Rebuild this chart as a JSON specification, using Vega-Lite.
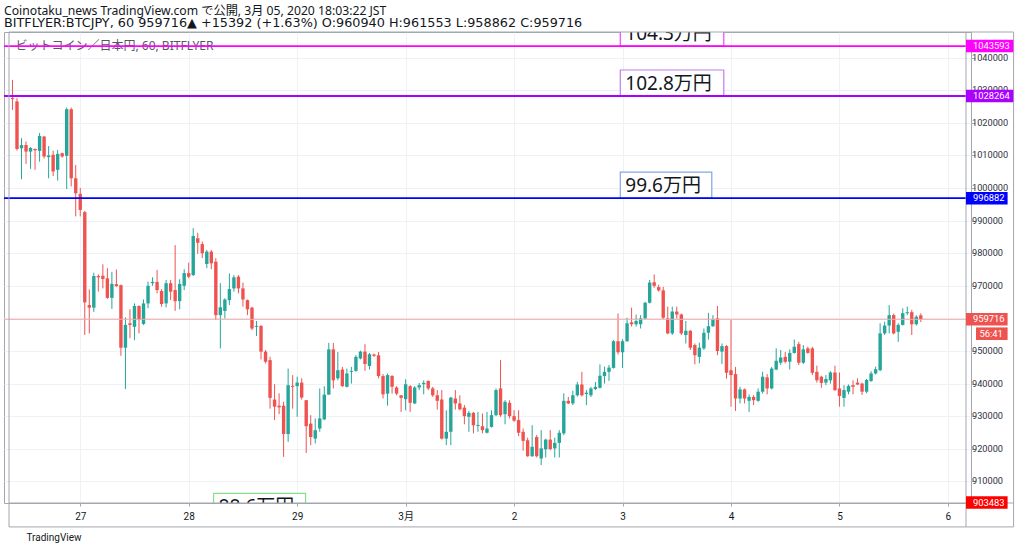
{
"$schema":"https://vega.github.io/schema/vega-lite/v6.json",
"width":967,"height":471,
"autosize":"none",
"padding":{"left":4,"top":32,"right":53,"bottom":49},
"background":"#ffffff",
"config":{"view":{"stroke":"#a3a6af","strokeWidth":1},"font":"Roboto"},
"title":{"text":"Coinotaku_news TradingView.com で公開, 3月 05, 2020 18:03:22 JST","subtitle":"BITFLYER:BTCJPY, 60 959716▲ +15392 (+1.63%) O:960940 H:961553 L:958862 C:959716","anchor":"start","frame":"group","font":"Noto Sans, Noto Sans CJK JP","subtitleFont":"DejaVu Sans, Noto Sans CJK JP","fontSize":12.2,"subtitleFontSize":12.8,"fontWeight":"normal","color":"#131722","subtitleColor":"#131722","subtitlePadding":0,"offset":2},
"datasets":{
"bars":[
{"t":"2020-02-26T09:00:00Z","o":1027600,"h":1033200,"l":1024000,"c":1027300},
{"t":"2020-02-26T10:00:00Z","o":1026600,"h":1027600,"l":1011500,"c":1012000},
{"t":"2020-02-26T11:00:00Z","o":1012200,"h":1015300,"l":1002700,"c":1013200},
{"t":"2020-02-26T12:00:00Z","o":1013200,"h":1014300,"l":1007400,"c":1011200},
{"t":"2020-02-26T13:00:00Z","o":1011200,"h":1012600,"l":1005900,"c":1012300},
{"t":"2020-02-26T14:00:00Z","o":1012000,"h":1012200,"l":1005600,"c":1011600},
{"t":"2020-02-26T15:00:00Z","o":1011400,"h":1016900,"l":1008100,"c":1016000},
{"t":"2020-02-26T16:00:00Z","o":1015800,"h":1016000,"l":1009100,"c":1009700},
{"t":"2020-02-26T17:00:00Z","o":1009500,"h":1012900,"l":1003000,"c":1010000},
{"t":"2020-02-26T18:00:00Z","o":1010200,"h":1011500,"l":1003700,"c":1005100},
{"t":"2020-02-26T19:00:00Z","o":1005600,"h":1011700,"l":1002300,"c":1010500},
{"t":"2020-02-26T20:00:00Z","o":1010700,"h":1010900,"l":1009300,"c":1009700},
{"t":"2020-02-26T21:00:00Z","o":1009900,"h":1024700,"l":999700,"c":1024200},
{"t":"2020-02-26T22:00:00Z","o":1024200,"h":1024700,"l":1000500,"c":1003000},
{"t":"2020-02-26T23:00:00Z","o":1003000,"h":1007100,"l":991300,"c":998400},
{"t":"2020-02-27T00:00:00Z","o":998200,"h":1000000,"l":991300,"c":993300},
{"t":"2020-02-27T01:00:00Z","o":992600,"h":993000,"l":954900,"c":964900},
{"t":"2020-02-27T02:00:00Z","o":964100,"h":968900,"l":955400,"c":963300},
{"t":"2020-02-27T03:00:00Z","o":963300,"h":974000,"l":962000,"c":973000},
{"t":"2020-02-27T04:00:00Z","o":973000,"h":973500,"l":968200,"c":972600},
{"t":"2020-02-27T05:00:00Z","o":973100,"h":976600,"l":969200,"c":972100},
{"t":"2020-02-27T06:00:00Z","o":972300,"h":975400,"l":966000,"c":966300},
{"t":"2020-02-27T07:00:00Z","o":966300,"h":974300,"l":962900,"c":970600},
{"t":"2020-02-27T08:00:00Z","o":970500,"h":975000,"l":969700,"c":969900},
{"t":"2020-02-27T09:00:00Z","o":970200,"h":970400,"l":948500,"c":951000},
{"t":"2020-02-27T10:00:00Z","o":951000,"h":960300,"l":938300,"c":958000},
{"t":"2020-02-27T11:00:00Z","o":958500,"h":962800,"l":953900,"c":958000},
{"t":"2020-02-27T12:00:00Z","o":957400,"h":964600,"l":953300,"c":963800},
{"t":"2020-02-27T13:00:00Z","o":963800,"h":964000,"l":955400,"c":959500},
{"t":"2020-02-27T14:00:00Z","o":958300,"h":965800,"l":958000,"c":964600},
{"t":"2020-02-27T15:00:00Z","o":964600,"h":971300,"l":963100,"c":970000},
{"t":"2020-02-27T16:00:00Z","o":970800,"h":972600,"l":970000,"c":971200},
{"t":"2020-02-27T17:00:00Z","o":971200,"h":974900,"l":967700,"c":968700},
{"t":"2020-02-27T18:00:00Z","o":968400,"h":969000,"l":963600,"c":964400},
{"t":"2020-02-27T19:00:00Z","o":964600,"h":971800,"l":963400,"c":970800},
{"t":"2020-02-27T20:00:00Z","o":970800,"h":971800,"l":965600,"c":968200},
{"t":"2020-02-27T21:00:00Z","o":968700,"h":982500,"l":962300,"c":965300},
{"t":"2020-02-27T22:00:00Z","o":965300,"h":972000,"l":962800,"c":970600},
{"t":"2020-02-27T23:00:00Z","o":970000,"h":975100,"l":968700,"c":973900},
{"t":"2020-02-28T00:00:00Z","o":973900,"h":977100,"l":972300,"c":972800},
{"t":"2020-02-28T01:00:00Z","o":973300,"h":987700,"l":973000,"c":985300},
{"t":"2020-02-28T02:00:00Z","o":984600,"h":986300,"l":979800,"c":983200},
{"t":"2020-02-28T03:00:00Z","o":982800,"h":983600,"l":978500,"c":980000},
{"t":"2020-02-28T04:00:00Z","o":976700,"h":981000,"l":975400,"c":980500},
{"t":"2020-02-28T05:00:00Z","o":980500,"h":981000,"l":975100,"c":976900},
{"t":"2020-02-28T06:00:00Z","o":977400,"h":978500,"l":959500,"c":961000},
{"t":"2020-02-28T07:00:00Z","o":961000,"h":970800,"l":950800,"c":963400},
{"t":"2020-02-28T08:00:00Z","o":962300,"h":966200,"l":960000,"c":965800},
{"t":"2020-02-28T09:00:00Z","o":965600,"h":973800,"l":964100,"c":969000},
{"t":"2020-02-28T10:00:00Z","o":969200,"h":973300,"l":968200,"c":972600},
{"t":"2020-02-28T11:00:00Z","o":972800,"h":973300,"l":967700,"c":969200},
{"t":"2020-02-28T12:00:00Z","o":969200,"h":971000,"l":963600,"c":965800},
{"t":"2020-02-28T13:00:00Z","o":965600,"h":965800,"l":961000,"c":962800},
{"t":"2020-02-28T14:00:00Z","o":963300,"h":963600,"l":956400,"c":956900},
{"t":"2020-02-28T15:00:00Z","o":957400,"h":959200,"l":954600,"c":957700},
{"t":"2020-02-28T16:00:00Z","o":957700,"h":957900,"l":947400,"c":949800},
{"t":"2020-02-28T17:00:00Z","o":949800,"h":950300,"l":946200,"c":946700},
{"t":"2020-02-28T18:00:00Z","o":947200,"h":948200,"l":932300,"c":935600},
{"t":"2020-02-28T19:00:00Z","o":935100,"h":939800,"l":928800,"c":932900},
{"t":"2020-02-28T20:00:00Z","o":933200,"h":937000,"l":930600,"c":932700},
{"t":"2020-02-28T21:00:00Z","o":933200,"h":934400,"l":917500,"c":924500},
{"t":"2020-02-28T22:00:00Z","o":924500,"h":944600,"l":922100,"c":939500},
{"t":"2020-02-28T23:00:00Z","o":939300,"h":942600,"l":932300,"c":939000},
{"t":"2020-02-29T00:00:00Z","o":939200,"h":942100,"l":929800,"c":940300},
{"t":"2020-02-29T01:00:00Z","o":940300,"h":941600,"l":935100,"c":935700},
{"t":"2020-02-29T02:00:00Z","o":934900,"h":934900,"l":918700,"c":926900},
{"t":"2020-02-29T03:00:00Z","o":927700,"h":930300,"l":921100,"c":923600},
{"t":"2020-02-29T04:00:00Z","o":923100,"h":929300,"l":921600,"c":925700},
{"t":"2020-02-29T05:00:00Z","o":926200,"h":938500,"l":925200,"c":929300},
{"t":"2020-02-29T06:00:00Z","o":929000,"h":939200,"l":928800,"c":936600},
{"t":"2020-02-29T07:00:00Z","o":936600,"h":952500,"l":936600,"c":950500},
{"t":"2020-02-29T08:00:00Z","o":950500,"h":952500,"l":938500,"c":941000},
{"t":"2020-02-29T09:00:00Z","o":941600,"h":949700,"l":941000,"c":944100},
{"t":"2020-02-29T10:00:00Z","o":944300,"h":945100,"l":939000,"c":939200},
{"t":"2020-02-29T11:00:00Z","o":939000,"h":944600,"l":938800,"c":943100},
{"t":"2020-02-29T12:00:00Z","o":943600,"h":945100,"l":940000,"c":943900},
{"t":"2020-02-29T13:00:00Z","o":943900,"h":948700,"l":943600,"c":948200},
{"t":"2020-02-29T14:00:00Z","o":947700,"h":950100,"l":947400,"c":949800},
{"t":"2020-02-29T15:00:00Z","o":949800,"h":952100,"l":943900,"c":946000},
{"t":"2020-02-29T16:00:00Z","o":945400,"h":949400,"l":944300,"c":949000},
{"t":"2020-02-29T17:00:00Z","o":948900,"h":949200,"l":948200,"c":948500},
{"t":"2020-02-29T18:00:00Z","o":948700,"h":949700,"l":941600,"c":942300},
{"t":"2020-02-29T19:00:00Z","o":942300,"h":942900,"l":935400,"c":936700},
{"t":"2020-02-29T20:00:00Z","o":936900,"h":943100,"l":933200,"c":942600},
{"t":"2020-02-29T21:00:00Z","o":942300,"h":942600,"l":936900,"c":939000},
{"t":"2020-02-29T22:00:00Z","o":938800,"h":939200,"l":936400,"c":936900},
{"t":"2020-02-29T23:00:00Z","o":936400,"h":936400,"l":931300,"c":935600},
{"t":"2020-03-01T00:00:00Z","o":935200,"h":941300,"l":931800,"c":939800},
{"t":"2020-03-01T01:00:00Z","o":939200,"h":939500,"l":931300,"c":934100},
{"t":"2020-03-01T02:00:00Z","o":933900,"h":939200,"l":933700,"c":938800},
{"t":"2020-03-01T03:00:00Z","o":938800,"h":940200,"l":938000,"c":939500},
{"t":"2020-03-01T04:00:00Z","o":939800,"h":941000,"l":936700,"c":940200},
{"t":"2020-03-01T05:00:00Z","o":940800,"h":941000,"l":938000,"c":938500},
{"t":"2020-03-01T06:00:00Z","o":938500,"h":939000,"l":935900,"c":936400},
{"t":"2020-03-01T07:00:00Z","o":936400,"h":938000,"l":932000,"c":934700},
{"t":"2020-03-01T08:00:00Z","o":935100,"h":938000,"l":922800,"c":923100},
{"t":"2020-03-01T09:00:00Z","o":923100,"h":931800,"l":921100,"c":925200},
{"t":"2020-03-01T10:00:00Z","o":925200,"h":935900,"l":921100,"c":935700},
{"t":"2020-03-01T11:00:00Z","o":935400,"h":938000,"l":932000,"c":933900},
{"t":"2020-03-01T12:00:00Z","o":933900,"h":936400,"l":931800,"c":932100},
{"t":"2020-03-01T13:00:00Z","o":932600,"h":933400,"l":927500,"c":930000},
{"t":"2020-03-01T14:00:00Z","o":929800,"h":931600,"l":925200,"c":931000},
{"t":"2020-03-01T15:00:00Z","o":931000,"h":931300,"l":924700,"c":927200},
{"t":"2020-03-01T16:00:00Z","o":927000,"h":931300,"l":925200,"c":927300},
{"t":"2020-03-01T17:00:00Z","o":926900,"h":930800,"l":924700,"c":925700},
{"t":"2020-03-01T18:00:00Z","o":924900,"h":931300,"l":924700,"c":926200},
{"t":"2020-03-01T19:00:00Z","o":926700,"h":931800,"l":926500,"c":930300},
{"t":"2020-03-01T20:00:00Z","o":930300,"h":938500,"l":930000,"c":938000},
{"t":"2020-03-01T21:00:00Z","o":938500,"h":947200,"l":929800,"c":930300},
{"t":"2020-03-01T22:00:00Z","o":930600,"h":934900,"l":927500,"c":934400},
{"t":"2020-03-01T23:00:00Z","o":934100,"h":934900,"l":929300,"c":930000},
{"t":"2020-03-02T00:00:00Z","o":930000,"h":931800,"l":928300,"c":928600},
{"t":"2020-03-02T01:00:00Z","o":928800,"h":931800,"l":923900,"c":924900},
{"t":"2020-03-02T02:00:00Z","o":925200,"h":926200,"l":919400,"c":922400},
{"t":"2020-03-02T03:00:00Z","o":922600,"h":923400,"l":917500,"c":917700},
{"t":"2020-03-02T04:00:00Z","o":917700,"h":927200,"l":917500,"c":920600},
{"t":"2020-03-02T05:00:00Z","o":923600,"h":924200,"l":917300,"c":917700},
{"t":"2020-03-02T06:00:00Z","o":917000,"h":925700,"l":915000,"c":920100},
{"t":"2020-03-02T07:00:00Z","o":919800,"h":923100,"l":917300,"c":922800},
{"t":"2020-03-02T08:00:00Z","o":922800,"h":925700,"l":919500,"c":919900},
{"t":"2020-03-02T09:00:00Z","o":920100,"h":923400,"l":917300,"c":921800},
{"t":"2020-03-02T10:00:00Z","o":921800,"h":925700,"l":917300,"c":924900},
{"t":"2020-03-02T11:00:00Z","o":924700,"h":937000,"l":924200,"c":934700},
{"t":"2020-03-02T12:00:00Z","o":934700,"h":935900,"l":933700,"c":933900},
{"t":"2020-03-02T13:00:00Z","o":933900,"h":937800,"l":933400,"c":936400},
{"t":"2020-03-02T14:00:00Z","o":936400,"h":940500,"l":936000,"c":939700},
{"t":"2020-03-02T15:00:00Z","o":939700,"h":943600,"l":936000,"c":936400},
{"t":"2020-03-02T16:00:00Z","o":936800,"h":938000,"l":933400,"c":937200},
{"t":"2020-03-02T17:00:00Z","o":936400,"h":939000,"l":935900,"c":938500},
{"t":"2020-03-02T18:00:00Z","o":938300,"h":940500,"l":938000,"c":939000},
{"t":"2020-03-02T19:00:00Z","o":938700,"h":945900,"l":938500,"c":942400},
{"t":"2020-03-02T20:00:00Z","o":942300,"h":945200,"l":940000,"c":943600},
{"t":"2020-03-02T21:00:00Z","o":943600,"h":945700,"l":940800,"c":944900},
{"t":"2020-03-02T22:00:00Z","o":944800,"h":953300,"l":944600,"c":953000},
{"t":"2020-03-02T23:00:00Z","o":953000,"h":961500,"l":948900,"c":949600},
{"t":"2020-03-03T00:00:00Z","o":949600,"h":953600,"l":944800,"c":953000},
{"t":"2020-03-03T01:00:00Z","o":953000,"h":960200,"l":952800,"c":958500},
{"t":"2020-03-03T02:00:00Z","o":958800,"h":963300,"l":957500,"c":958200},
{"t":"2020-03-03T03:00:00Z","o":958200,"h":961200,"l":957500,"c":959200},
{"t":"2020-03-03T04:00:00Z","o":958200,"h":961000,"l":956900,"c":960000},
{"t":"2020-03-03T05:00:00Z","o":960000,"h":965100,"l":959800,"c":964800},
{"t":"2020-03-03T06:00:00Z","o":964800,"h":971800,"l":964600,"c":971000},
{"t":"2020-03-03T07:00:00Z","o":971100,"h":973500,"l":969400,"c":970000},
{"t":"2020-03-03T08:00:00Z","o":969600,"h":970300,"l":968200,"c":968600},
{"t":"2020-03-03T09:00:00Z","o":968600,"h":969700,"l":959800,"c":960200},
{"t":"2020-03-03T10:00:00Z","o":960000,"h":963600,"l":955100,"c":955400},
{"t":"2020-03-03T11:00:00Z","o":955400,"h":963600,"l":954900,"c":962100},
{"t":"2020-03-03T12:00:00Z","o":962100,"h":963600,"l":960000,"c":961200},
{"t":"2020-03-03T13:00:00Z","o":961200,"h":961500,"l":954900,"c":955400},
{"t":"2020-03-03T14:00:00Z","o":954900,"h":959200,"l":952300,"c":956200},
{"t":"2020-03-03T15:00:00Z","o":956200,"h":956400,"l":950300,"c":951000},
{"t":"2020-03-03T16:00:00Z","o":951800,"h":952300,"l":945900,"c":948700},
{"t":"2020-03-03T17:00:00Z","o":948200,"h":952600,"l":946200,"c":951000},
{"t":"2020-03-03T18:00:00Z","o":950800,"h":956900,"l":950300,"c":955600},
{"t":"2020-03-03T19:00:00Z","o":955600,"h":961700,"l":953500,"c":957600},
{"t":"2020-03-03T20:00:00Z","o":957600,"h":961000,"l":957400,"c":959700},
{"t":"2020-03-03T21:00:00Z","o":960000,"h":963800,"l":948700,"c":950000},
{"t":"2020-03-03T22:00:00Z","o":949800,"h":952300,"l":946000,"c":951500},
{"t":"2020-03-03T23:00:00Z","o":951500,"h":951800,"l":941500,"c":943300},
{"t":"2020-03-04T00:00:00Z","o":944100,"h":959500,"l":932900,"c":942600},
{"t":"2020-03-04T01:00:00Z","o":942900,"h":945100,"l":931600,"c":935400},
{"t":"2020-03-04T02:00:00Z","o":935400,"h":939000,"l":933900,"c":938200},
{"t":"2020-03-04T03:00:00Z","o":938200,"h":938500,"l":933900,"c":935400},
{"t":"2020-03-04T04:00:00Z","o":934700,"h":936700,"l":931300,"c":935900},
{"t":"2020-03-04T05:00:00Z","o":935900,"h":936400,"l":933400,"c":934900},
{"t":"2020-03-04T06:00:00Z","o":934700,"h":938500,"l":934400,"c":937500},
{"t":"2020-03-04T07:00:00Z","o":937500,"h":943600,"l":936900,"c":942100},
{"t":"2020-03-04T08:00:00Z","o":941900,"h":942900,"l":936700,"c":938500},
{"t":"2020-03-04T09:00:00Z","o":938500,"h":945100,"l":938200,"c":944600},
{"t":"2020-03-04T10:00:00Z","o":944300,"h":950800,"l":944100,"c":947000},
{"t":"2020-03-04T11:00:00Z","o":946400,"h":950300,"l":945700,"c":948000},
{"t":"2020-03-04T12:00:00Z","o":948200,"h":949700,"l":946200,"c":946700},
{"t":"2020-03-04T13:00:00Z","o":946700,"h":950500,"l":944300,"c":949400},
{"t":"2020-03-04T14:00:00Z","o":949400,"h":953500,"l":949200,"c":951300},
{"t":"2020-03-04T15:00:00Z","o":952100,"h":952800,"l":945700,"c":946400},
{"t":"2020-03-04T16:00:00Z","o":946400,"h":951800,"l":946000,"c":950500},
{"t":"2020-03-04T17:00:00Z","o":950800,"h":951300,"l":949200,"c":949400},
{"t":"2020-03-04T18:00:00Z","o":950800,"h":951300,"l":942600,"c":943300},
{"t":"2020-03-04T19:00:00Z","o":943600,"h":945500,"l":940300,"c":941000},
{"t":"2020-03-04T20:00:00Z","o":942100,"h":942400,"l":938700,"c":940200},
{"t":"2020-03-04T21:00:00Z","o":940300,"h":942600,"l":939500,"c":941400},
{"t":"2020-03-04T22:00:00Z","o":941000,"h":943800,"l":940000,"c":943400},
{"t":"2020-03-04T23:00:00Z","o":943400,"h":945500,"l":937700,"c":938000},
{"t":"2020-03-05T00:00:00Z","o":938500,"h":943400,"l":932900,"c":936200},
{"t":"2020-03-05T01:00:00Z","o":935600,"h":939500,"l":932900,"c":938000},
{"t":"2020-03-05T02:00:00Z","o":937500,"h":939700,"l":936700,"c":939300},
{"t":"2020-03-05T03:00:00Z","o":939500,"h":941000,"l":936700,"c":939000},
{"t":"2020-03-05T04:00:00Z","o":940300,"h":941600,"l":939500,"c":939700},
{"t":"2020-03-05T05:00:00Z","o":940000,"h":940300,"l":936500,"c":937500},
{"t":"2020-03-05T06:00:00Z","o":937500,"h":941400,"l":937000,"c":941100},
{"t":"2020-03-05T07:00:00Z","o":940800,"h":943800,"l":940500,"c":943100},
{"t":"2020-03-05T08:00:00Z","o":943100,"h":945200,"l":942800,"c":944400},
{"t":"2020-03-05T09:00:00Z","o":944100,"h":958500,"l":943800,"c":955400},
{"t":"2020-03-05T10:00:00Z","o":955400,"h":959000,"l":954900,"c":957800},
{"t":"2020-03-05T11:00:00Z","o":957800,"h":964100,"l":955400,"c":961000},
{"t":"2020-03-05T12:00:00Z","o":961000,"h":961500,"l":955100,"c":955400},
{"t":"2020-03-05T13:00:00Z","o":955900,"h":958500,"l":952800,"c":958000},
{"t":"2020-03-05T14:00:00Z","o":958000,"h":963100,"l":957800,"c":961600},
{"t":"2020-03-05T15:00:00Z","o":961600,"h":963600,"l":961000,"c":961900},
{"t":"2020-03-05T16:00:00Z","o":961900,"h":962600,"l":954900,"c":958200},
{"t":"2020-03-05T17:00:00Z","o":958200,"h":961000,"l":957800,"c":960500},
{"t":"2020-03-05T18:00:00Z","o":960940,"h":961553,"l":958862,"c":959716}
],
"levels":[
{"name":"104.3万円","price":1043593},
{"name":"102.8万円","price":1028264},
{"name":"99.6万円","price":996882}
],
"notes":[
{"text":"104.3万円","t":"2020-03-02T23:30:00Z","p":1043593},
{"text":"102.8万円","t":"2020-03-02T23:30:00Z","p":1028264},
{"text":"99.6万円","t":"2020-03-02T23:30:00Z","p":996882},
{"text":"88.6万円","t":"2020-02-28T05:30:00Z","p":898300}
],
"tags":[
{"tag":"1043593","price":1043593},
{"tag":"1028264","price":1028264},
{"tag":"996882","price":996882},
{"tag":"959716","price":959716},
{"tag":"903483","price":903483}
],
"yticks":[
{"v":910000},{"v":920000},{"v":930000},{"v":940000},{"v":950000},{"v":960000},{"v":970000},{"v":980000},{"v":990000},{"v":1000000},{"v":1010000},{"v":1020000},{"v":1030000},{"v":1040000}
]
},
"resolve":{"scale":{"shape":"independent","fill":"independent","stroke":"independent","color":"independent"}},
"layer":[
{
"data":{"name":"bars"},
"mark":{"type":"rule","strokeWidth":1},
"encoding":{
"x":{"field":"t","type":"temporal","scale":{"type":"utc","domain":[{"year":2020,"month":2,"date":26,"hours":8,"minutes":14,"utc":true},{"year":2020,"month":3,"date":6,"hours":4,"utc":true}]},
"axis":{"orient":"bottom","title":"TradingView","titleAnchor":"start","titleAlign":"left","titleBaseline":"middle","titleX":22,"titleY":34,"titleFontSize":10,"titleFontWeight":"normal","titleColor":"#131722","titleFont":"Roboto","values":[{"year":2020,"month":2,"date":27,"utc":true},{"year":2020,"month":2,"date":28,"utc":true},{"year":2020,"month":2,"date":29,"utc":true},{"year":2020,"month":3,"date":1,"utc":true},{"year":2020,"month":3,"date":2,"utc":true},{"year":2020,"month":3,"date":3,"utc":true},{"year":2020,"month":3,"date":4,"utc":true},{"year":2020,"month":3,"date":5,"utc":true},{"year":2020,"month":3,"date":6,"utc":true}],"labelExpr":"utcdate(datum.value) == 1 ? '3月' : '' + utcdate(datum.value)","labelFont":"Roboto, Noto Sans CJK JP","labelFontSize":10,"labelColor":"#131722","tickSize":3,"tickColor":"#a3a6af","labelPadding":5,"domain":false,"grid":true,"gridColor":"#eef1f6","labelFlush":false,"labelOverlap":false}},
"y":{"field":"l","type":"quantitative","scale":{"domain":[903340,1047900],"zero":false,"nice":false},
"axis":{"orient":"right","title":null,"values":[910000,920000,930000,940000,950000,960000,970000,980000,990000,1000000,1010000,1020000,1030000,1040000],"tickCount":14,"labels":false,"tickSize":4,"tickColor":"#a3a6af","domain":false,"grid":true,"gridColor":"#eef1f6"}},
"y2":{"field":"h"},
"color":{"condition":{"test":"datum.c >= datum.o","value":"#26a69a"},"value":"#ef5350"}
}
},
{
"data":{"name":"bars"},
"mark":{"type":"bar","width":3.4},
"encoding":{
"x":{"field":"t","type":"temporal"},
"y":{"field":"o","type":"quantitative"},
"y2":{"field":"c"},
"color":{"condition":{"test":"datum.c >= datum.o","value":"#26a69a"},"value":"#ef5350"}
}
},
{
"data":{"name":"yticks"},
"mark":{"type":"text","align":"left","baseline":"middle","dx":6,"fontSize":9.2,"font":"Roboto","color":"#2f3240"},
"encoding":{
"x":{"datum":{"year":2020,"month":3,"date":6,"hours":4,"utc":true},"type":"temporal"},
"y":{"field":"v","type":"quantitative"},
"text":{"field":"v","type":"quantitative","format":"d"}
}
},
{
"data":{"values":[{"label":"ビットコイン／日本円, 60, BITFLYER"}]},
"mark":{"type":"text","align":"left","baseline":"middle","dx":3,"fontSize":12,"font":"Noto Sans, Noto Sans CJK JP","color":"#55585f"},
"encoding":{
"x":{"datum":{"year":2020,"month":2,"date":26,"hours":9,"utc":true},"type":"temporal"},
"y":{"datum":1043593,"type":"quantitative"},
"text":{"field":"label"}
}
},
{
"data":{"values":[{"price":959716}]},
"mark":{"type":"rule","strokeWidth":1,"color":"#f5a9a8"},
"encoding":{"y":{"field":"price","type":"quantitative"}}
},
{
"data":{"name":"notes"},
"mark":{"type":"point","filled":false,"fill":"#ffffff","fillOpacity":1,"opacity":1,"size":10000,"strokeWidth":1.2,"clip":true},
"encoding":{
"x":{"field":"t","type":"temporal"},
"y":{"field":"p","type":"quantitative"},
"shape":{"field":"text","type":"nominal","legend":null,"scale":{"domain":["104.3万円","102.8万円","99.6万円","88.6万円"],"range":["M0,0H2.07V-0.52H0Z","M0,0H2.07V-0.52H0Z","M0,0H1.83V-0.52H0Z","M0,0H1.84V-0.52H0Z"]}},
"stroke":{"field":"text","type":"nominal","legend":null,"scale":{"domain":["104.3万円","102.8万円","99.6万円","88.6万円"],"range":["#e64cf5","#c07cf2","#7eaae2","#86df86"]}}
}
},
{
"data":{"name":"notes"},
"mark":{"type":"text","align":"left","baseline":"alphabetic","dx":5,"dy":-6,"fontSize":19,"font":"Noto Sans, Noto Sans CJK JP","color":"#131722","clip":true},
"encoding":{
"x":{"field":"t","type":"temporal"},
"y":{"field":"p","type":"quantitative"},
"text":{"field":"text"}
}
},
{
"data":{"name":"levels"},
"mark":{"type":"rule","strokeWidth":1.8},
"encoding":{
"y":{"field":"price","type":"quantitative"},
"color":{"field":"name","type":"nominal","legend":null,"scale":{"domain":["104.3万円","102.8万円","99.6万円"],"range":["#ff00ff","#aa00ff","#0000ff"]}}
}
},
{
"data":{"values":[{"edge":"top"}]},
"mark":{"type":"rule","strokeWidth":1,"color":"#a3a6af"},
"encoding":{
"x":{"datum":{"year":2020,"month":2,"date":26,"hours":8,"minutes":14,"utc":true},"type":"temporal"},
"x2":{"datum":{"year":2020,"month":3,"date":6,"hours":14,"minutes":32,"utc":true}},
"y":{"datum":1047900,"type":"quantitative"}
}
},
{
"data":{"values":[{"edge":"bottom"}]},
"mark":{"type":"rule","strokeWidth":1,"color":"#a3a6af"},
"encoding":{
"x":{"datum":{"year":2020,"month":2,"date":26,"hours":8,"minutes":14,"utc":true},"type":"temporal"},
"x2":{"datum":{"year":2020,"month":3,"date":6,"hours":14,"minutes":32,"utc":true}},
"y":{"datum":903340,"type":"quantitative"}
}
},
{
"data":{"values":[{"edge":"outer bottom"}]},
"mark":{"type":"rule","strokeWidth":1,"color":"#a3a6af"},
"encoding":{
"x":{"datum":{"year":2020,"month":2,"date":26,"hours":8,"minutes":14,"utc":true},"type":"temporal"},
"x2":{"datum":{"year":2020,"month":3,"date":6,"hours":14,"minutes":32,"utc":true}},
"y":{"datum":896000,"type":"quantitative"}
}
},
{
"data":{"values":[{"edge":"left"}]},
"mark":{"type":"rule","strokeWidth":1,"color":"#a3a6af"},
"encoding":{
"x":{"datum":{"year":2020,"month":2,"date":26,"hours":8,"minutes":14,"utc":true},"type":"temporal"},
"y":{"datum":1047900,"type":"quantitative"},
"y2":{"datum":896000}
}
},
{
"data":{"values":[{"edge":"axis"}]},
"mark":{"type":"rule","strokeWidth":1,"color":"#a3a6af"},
"encoding":{
"x":{"datum":{"year":2020,"month":3,"date":6,"hours":4,"utc":true},"type":"temporal"},
"y":{"datum":1047900,"type":"quantitative"},
"y2":{"datum":896000}
}
},
{
"data":{"values":[{"edge":"right"}]},
"mark":{"type":"rule","strokeWidth":1,"color":"#a3a6af"},
"encoding":{
"x":{"datum":{"year":2020,"month":3,"date":6,"hours":14,"minutes":32,"utc":true},"type":"temporal"},
"y":{"datum":1047900,"type":"quantitative"},
"y2":{"datum":896000}
}
},
{
"data":{"name":"tags"},
"mark":{"type":"point","filled":true,"size":400,"opacity":1,"strokeWidth":0},
"encoding":{
"x":{"datum":{"year":2020,"month":3,"date":6,"hours":4,"utc":true},"type":"temporal"},
"y":{"field":"price","type":"quantitative"},
"shape":{"field":"tag","type":"nominal","legend":null,"scale":{"domain":["1043593","1028264","996882","959716","903483"],"range":["M0,-0.63H4.73V0.63H0Z","M0,-0.63H4.73V0.63H0Z","M0,-0.63H4.16V0.63H0Z","M0,-0.63H4.16V0.63H0Z","M0,-0.63H4.16V0.63H0Z"]}},
"fill":{"field":"tag","type":"nominal","legend":null,"scale":{"domain":["1043593","1028264","996882","959716","903483"],"range":["#ff00ff","#aa00ff","#0000ff","#ef5350","#ff0000"]}}
}
},
{
"data":{"name":"tags"},
"mark":{"type":"text","align":"left","baseline":"middle","dx":7,"fontSize":9.4,"font":"Roboto","color":"#ffffff"},
"encoding":{
"x":{"datum":{"year":2020,"month":3,"date":6,"hours":4,"utc":true},"type":"temporal"},
"y":{"field":"price","type":"quantitative"},
"text":{"field":"tag"}
}
},
{
"data":{"values":[{"tag":"56:41","price":959716}]},
"mark":{"type":"point","filled":true,"size":400,"opacity":1,"strokeWidth":0,"color":"#ef5350","shape":"M1,0.81H4.16V2.07H1Z"},
"encoding":{
"x":{"datum":{"year":2020,"month":3,"date":6,"hours":4,"utc":true},"type":"temporal"},
"y":{"field":"price","type":"quantitative"}
}
},
{
"data":{"values":[{"tag":"56:41","price":959716}]},
"mark":{"type":"text","align":"left","baseline":"middle","dx":13.5,"dy":14.4,"fontSize":9.4,"font":"Roboto","color":"#ffffff"},
"encoding":{
"x":{"datum":{"year":2020,"month":3,"date":6,"hours":4,"utc":true},"type":"temporal"},
"y":{"field":"price","type":"quantitative"},
"text":{"field":"tag"}
}
}
]
}
